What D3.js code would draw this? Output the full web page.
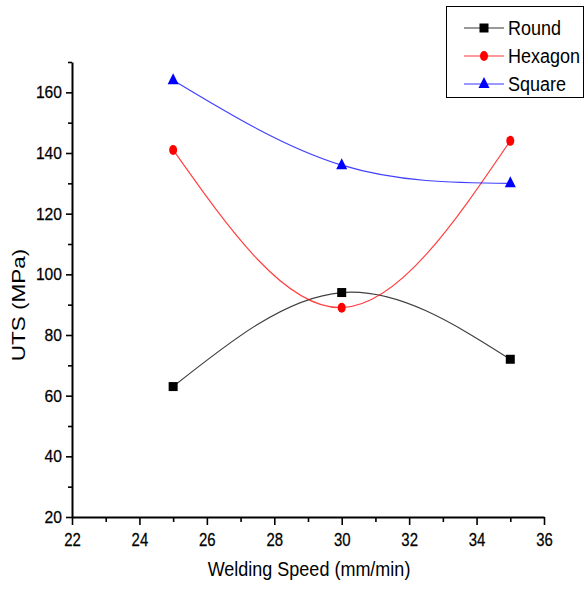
<!DOCTYPE html>
<html>
<head>
<meta charset="utf-8">
<script src="https://cdn.jsdelivr.net/npm/d3@7"></script>
<style>
  body { margin: 0; background: #fff; }
  svg text { font-family: "Liberation Sans", Arial, sans-serif; }
</style>
</head>
<body>
<div id="chart"></div>
<script>
// welding speed (mm/min)
const speeds = [25, 30, 35];
// UTS (MPa) per tool pin profile
const round = [63, 94, 72];
const hexagon = [141, 89, 144];
const square = [164, 136, 130];
const xTicks = [22, 24, 26, 28, 30, 32, 34, 36];
const yTicks = [20, 40, 60, 80, 100, 120, 140, 160];

const series = [
  { name: "Round", values: round, color: "#000000", marker: "square" },
  { name: "Hexagon", values: hexagon, color: "#ff0000", marker: "circle" },
  { name: "Square", values: square, color: "#0000ff", marker: "triangle" }
];

const W = 585, H = 589;
const margin = { top: 62, right: 41, bottom: 72, left: 72 };

const svg = d3.select("#chart").append("svg")
  .attr("width", W).attr("height", H);

const x = d3.scaleLinear().domain([22, 36]).range([margin.left, W - margin.right]);
const y = d3.scaleLinear().domain([20, 170]).range([H - margin.bottom, margin.top]);

// minor ticks
const xMinor = d3.range(23, 36, 2);
const yMinor = d3.range(30, 171, 20);

const gx = svg.append("g")
  .attr("transform", `translate(0,${y(20)})`)
  .call(d3.axisBottom(x).tickValues(xTicks).tickSize(8).tickSizeOuter(0).tickPadding(8));
svg.append("g")
  .attr("transform", `translate(0,${y(20)})`)
  .call(d3.axisBottom(x).tickValues(xMinor).tickSize(5).tickFormat(""))
  .call(g => g.select(".domain").remove());

const gy = svg.append("g")
  .attr("transform", `translate(${x(22)},0)`)
  .call(d3.axisLeft(y).tickValues(yTicks).tickSize(6).tickSizeOuter(0).tickPadding(4));
svg.append("g")
  .attr("transform", `translate(${x(22)},0)`)
  .call(d3.axisLeft(y).tickValues(yMinor).tickSize(4).tickFormat(""))
  .call(g => g.select(".domain").remove());

svg.selectAll(".domain").attr("stroke", "#000").attr("stroke-width", 2);
svg.selectAll(".tick line").attr("stroke", "#000").attr("stroke-width", 1.6);
svg.selectAll("g").attr("font-size", null).attr("font-family", null);
svg.selectAll(".tick text")
  .attr("fill", "#000")
  .attr("stroke", "#000")
  .attr("stroke-width", 0.25)
  .style("font-size", "17px");

gx.selectAll(".tick text").attr("transform", "scale(0.88,1.05)");
gy.selectAll(".tick text")
  .attr("x", -10 / 0.92)
  .attr("transform", "scale(0.92,1)");

// axis titles
svg.append("text")
  .attr("transform", "translate(309,576) scale(1,1.12)")
  .attr("text-anchor", "middle")
  .style("font-size", "18px")
  .text("Welding Speed (mm/min)");

svg.append("text")
  .attr("transform", "translate(25,305) rotate(-90) scale(1.25,1)")
  .attr("text-anchor", "middle")
  .style("font-size", "18px")
  .text("UTS (MPa)");

// curves
const line = d3.line()
  .x(d => x(d[0]))
  .y(d => y(d[1]))
  .curve(d3.curveNatural);

function drawMarker(g, type, cx, cy, color) {
  if (type === "square") {
    g.append("rect").attr("x", cx - 4.5).attr("y", cy - 4.5)
      .attr("width", 9).attr("height", 9).attr("fill", color);
  } else if (type === "circle") {
    g.append("ellipse").attr("cx", cx).attr("cy", cy)
      .attr("rx", 4).attr("ry", 5).attr("fill", color);
  } else {
    g.append("path")
      .attr("d", `M${cx},${cy - 7}L${cx + 5.5},${cy + 4}L${cx - 5.5},${cy + 4}Z`)
      .attr("fill", color);
  }
}

series.forEach(s => {
  const pts = speeds.map((v, i) => [v, s.values[i]]);
  svg.append("path")
    .datum(pts)
    .attr("fill", "none")
    .attr("stroke", s.color)
    .attr("stroke-opacity", 0.75)
    .attr("stroke-width", 1.2)
    .attr("d", line);
  const g = svg.append("g");
  pts.forEach(p => drawMarker(g, s.marker, x(p[0]), y(p[1]), s.color));
});

// legend
const lg = svg.append("g");
lg.append("rect")
  .attr("x", 446.5).attr("y", 6.5)
  .attr("width", 137).attr("height", 91)
  .attr("fill", "#fff").attr("stroke", "#000").attr("stroke-width", 1);

series.forEach((s, i) => {
  const cy = 28 + i * 28;
  lg.append("line")
    .attr("x1", 464).attr("x2", 504)
    .attr("y1", cy).attr("y2", cy)
    .attr("stroke", s.color).attr("stroke-opacity", 0.8).attr("stroke-width", 1.2);
  drawMarker(lg, s.marker, 484, cy, s.color);
  lg.append("text")
    .attr("transform", `translate(508,${cy + 7}) scale(1,1.12)`)
    .style("font-size", "18px")
    .text(s.name);
});
</script>
</body>
</html>
